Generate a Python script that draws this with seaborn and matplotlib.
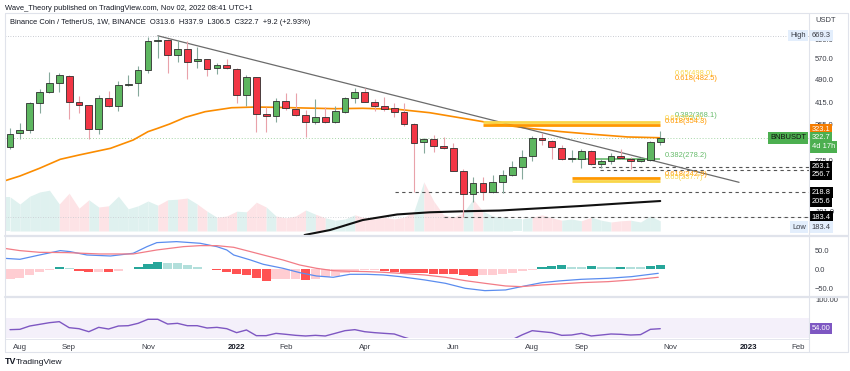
import matplotlib
matplotlib.use("Agg")
import matplotlib.pyplot as plt
import matplotlib.dates as mdates
import matplotlib.transforms as mtransforms
from matplotlib.lines import Line2D
import numpy as np
import pandas as pd
import seaborn as sns

# weekly BNB / USDT candles, first bar = week of 2021-07-26
first_week = "2021-07-26"
opens = [303.1, 333.5, 341.5, 413.2, 447.0, 478.7, 503.3, 416.2, 407.4, 343.9,
         429.2, 404.5, 470.9, 476.7, 524.2, 644.8, 649.5, 582.2, 609.0, 559.0,
         567.0, 530.6, 544.4, 527.9, 439.4, 497.5, 382.8, 377.4, 419.2, 396.7,
         379.3, 360.8, 373.9, 361.5, 389.2, 430.1, 448.9, 417.1, 405.3, 398.7,
         389.2, 355.7, 312.8, 319.5, 305.3, 299.6, 255.3, 215.7, 233.4, 219.8,
         235.0, 247.6, 261.6, 283.6, 321.8, 316.4, 300.9, 277.6, 278.2, 294.5,
         267.8, 274.2, 284.0, 278.2, 273.1, 275.6, 313.6]
highs = [347.1, 358.2, 418.0, 456.7, 517.8, 512.0, 505.8, 436.3, 408.5, 437.5,
         450.2, 483.6, 505.8, 539.4, 662.0, 669.3, 652.0, 649.5, 646.2, 616.4,
         568.5, 549.9, 568.3, 530.0, 505.8, 499.0, 401.6, 428.2, 445.7, 443.8,
         393.9, 425.2, 401.6, 405.3, 431.0, 460.0, 460.0, 425.2, 431.3, 413.2,
         413.2, 358.2, 321.8, 329.5, 324.2, 311.9, 257.9, 244.6, 243.6, 247.6,
         256.6, 274.2, 296.0, 327.1, 335.0, 318.0, 306.8, 296.0, 298.2, 296.0,
         279.0, 289.1, 297.5, 282.2, 282.0, 316.4, 337.9]
lows = [298.8, 319.5, 333.5, 386.4, 445.0, 448.9, 369.4, 384.8, 320.2, 331.2,
        403.0, 392.0, 469.0, 436.3, 512.0, 569.9, 512.0, 553.8, 490.5, 532.9,
        502.2, 508.3, 529.0, 415.0, 405.3, 337.4, 337.4, 362.3, 393.9, 377.4,
        324.2, 356.4, 360.0, 358.0, 384.8, 413.2, 417.0, 392.0, 392.0, 373.9,
        352.1, 218.8, 289.1, 292.5, 297.5, 254.0, 183.4, 204.6, 207.1, 217.3,
        218.2, 246.0, 240.6, 274.2, 306.8, 277.0, 276.0, 272.3, 259.8, 266.0,
        259.8, 267.8, 277.0, 257.9, 272.3, 274.2, 306.5]
closes = [331.9, 341.5, 413.2, 447.0, 478.7, 505.8, 416.2, 408.2, 343.9, 429.2,
          404.5, 469.9, 474.3, 523.1, 646.2, 649.5, 582.2, 609.0, 556.2, 568.3,
          529.1, 543.3, 530.6, 439.4, 497.5, 383.6, 377.4, 419.2, 398.7, 380.1,
          360.8, 373.9, 361.5, 391.1, 430.1, 448.9, 418.0, 406.2, 397.6, 389.2,
          355.7, 311.9, 319.5, 305.3, 299.6, 255.3, 215.7, 233.4, 219.8, 235.0,
          247.6, 261.6, 282.2, 321.8, 317.9, 301.8, 277.0, 279.0, 294.5, 267.8,
          273.7, 283.6, 279.0, 273.1, 277.6, 313.5, 322.7]
volume_m = [5.7, 4.5, 5.8, 6.5, 6.8, 4.5, 6.3, 3.8, 5.2, 4.0,
            4.2, 5.8, 3.7, 4.2, 5.0, 4.3, 5.2, 5.3, 5.5, 4.5,
            3.3, 2.3, 2.5, 3.3, 3.2, 4.8, 4.0, 2.5, 2.2, 2.5,
            3.5, 2.8, 2.2, 1.8, 2.0, 2.7, 2.2, 2.0, 2.3, 2.0,
            2.3, 3.3, 8.2, 5.0, 2.7, 2.3, 3.0, 5.3, 3.3, 2.5,
            2.3, 2.0, 2.0, 2.3, 2.7, 2.2, 1.8, 2.0, 1.7, 2.3,
            1.8, 1.5, 1.7, 1.8, 1.5, 2.5, 1.7]

# moving averages (week offset from first bar, value)
ema50_week = [-0.6, 1, 3, 5.1, 7, 10.2, 12.5, 14, 15, 16.2, 17.8, 19.8, 22.5, 24.9,
              26.9, 30, 33, 35.8, 39.3, 42.6, 46, 49.4, 52.6, 56, 59.4, 62.7, 66]
ema50 = [237.2, 245.8, 259.8, 277.0, 285.6, 299.6, 317.9, 337.4, 345.7, 356.4,
         373.9, 389.2, 400.4, 402.3, 401.6, 399.5, 397.6, 398.7, 396.0, 386.4,
         371.2, 356.4, 345.7, 337.4, 330.7, 324.9, 323.1]
ema200_week = [29.9, 32.5, 35.8, 39.3, 42.6, 46.0, 49.7, 57.9, 61.9, 66]
ema200 = [161.3, 167.2, 179.5, 186.8, 189.7, 191.1, 192.1, 198.4, 202.0, 205.6]

# descending trendline
trend_week = [15, 74]
trend_price = [669.3, 235.0]

# MACD
macd_hist = [-25.9, -21.6, -14.7, -7.8, -1.7, 5.2, 2.6, -3.5, -7.8, -6.0,
             -6.9, -3.5, -0.5, 5.2, 13.8, 19.9, 17.3, 15.5, 11.2, 6.9,
             1.7, -2.6, -6.0, -13.0, -15.5, -23.3, -29.4, -25.9, -25.9, -25.0,
             -27.6, -24.2, -19.0, -17.3, -8.6, -5.2, -2.6, -1.0, -4.3, -6.0,
             -8.6, -10.0, -10.8, -11.3, -11.8, -13.0, -15.0, -17.3, -15.5, -13.8,
             -12.0, -8.6, -5.2, -1.7, 5.2, 8.6, 10.4, 6.9, 6.9, 8.6,
             5.2, 5.2, 6.9, 5.2, 5.2, 8.6, 10.4]
macd_week = [-0.6, 1.0, 3.0, 5.1, 6.1, 7.8, 10.2, 12.5, 13.9, 14.9, 16.9, 19.3, 21.0,
             22.0, 22.7, 24.4, 25.7, 27.7, 29.4, 31.1, 32.8, 34.5, 36.2, 37.9, 39.6,
             42.1, 44.2, 46.2, 48.2, 50.3, 51.9, 54.0, 55.7, 58.0, 60.7, 63.1, 65.8]
macd_line = [28.5, 25.9, 37.1, 48.4, 45.8, 37.1, 34.5, 41.5, 58.7, 69.1, 71.7, 67.4,
             58.7, 50.1, 37.1, 24.2, 13.0, 2.6, -8.6, -17.3, -20.7, -13.0, -13.0,
             -14.7, -19.0, -27.6, -36.3, -49.2, -55.3, -53.5, -44.9, -34.5, -30.2,
             -25.9, -23.3, -19.0, -10.4]
signal_week = [-0.6, 1.0, 3.0, 5.8, 9.1, 12.5, 14.9, 17.6, 19.3, 21.0, 22.7, 24.4,
               26.1, 27.7, 29.4, 31.1, 32.8, 34.5, 36.2, 37.9, 39.6, 42.1, 44.2,
               46.2, 48.2, 50.3, 51.9, 54.0, 55.7, 58.0, 60.7, 63.1, 65.8]
signal_line = [54.4, 48.4, 44.0, 43.2, 39.7, 39.7, 50.1, 58.7, 61.3, 61.3, 57.0,
               45.8, 34.5, 24.2, 11.2, 2.6, -3.5, -5.2, -6.0, -7.8, -10.4, -14.7,
               -20.7, -29.4, -36.3, -43.2, -44.9, -40.6, -38.0, -34.5, -32.0,
               -27.6, -20.7]

# RSI (14)
rsi = [52.5, 53.0, 58.2, 60.8, 63.4, 65.0, 55.6, 54.0, 49.3, 56.1,
       53.5, 58.2, 58.7, 62.4, 68.7, 68.7, 61.3, 62.4, 58.7, 58.7,
       55.1, 56.1, 54.0, 47.8, 52.0, 43.1, 43.1, 46.7, 45.2, 43.6,
       42.6, 43.6, 42.6, 46.7, 50.9, 52.5, 49.3, 47.8, 46.7, 45.7,
       40.5, 36.0, 30.0, 31.0, 29.0, 28.0, 24.0, 22.0, 27.0, 26.0,
       30.0, 37.0, 44.5, 50.9, 49.3, 47.8, 43.6, 44.1, 46.7, 42.6,
       44.1, 45.7, 45.2, 44.1, 44.7, 53.0, 54.0]

# fibonacci levels
fib_labels = ["0.65", "0.618", "0.382", "0.65", "0.618", "0.382", "0.618", "0.65"]
fib_prices = [498.0, 482.5, 368.1, 362.0, 354.3, 278.2, 242.9, 237.7]
fib_kind = ["yellow", "orange", "green", "yellow", "orange", "green", "orange", "yellow"]
fib_start = [None, None, None, 48.0, 48.0, 56.7, 57.0, 57.0]
fib_label_week = [67.5, 67.5, 67.5, 66.5, 66.5, 66.5, 66.5, 66.5]

# horizontal support / resistance (price, start week)
sr_prices = [263.1, 256.7, 218.8, 183.4]
sr_start = [59.1, 59.9, 39.1, 44.0]
sr_tag_shift = [0, 4.5, 0, 0]   # scale tags pushed apart like on the source

tick_dates = ["2021-08-02", "2021-09-06", "2021-11-01", "2022-01-03", "2022-02-07",
              "2022-04-04", "2022-06-06", "2022-08-01", "2022-09-05", "2022-11-07",
              "2023-01-02", "2023-02-06"]
tick_labels = ["Aug", "Sep", "Nov", "2022", "Feb", "Apr", "Jun", "Aug", "Sep", "Nov",
               "2023", "Feb"]

sns.set_theme(style="white")
plt.rcParams["font.family"] = ["Liberation Sans", "DejaVu Sans"]

W, H = 850, 371
FS = 5.4
TXT = "#3a3d46"
GREEN, RED = "#5db660", "#f23645"
fib_colors = {"yellow": "#f9d649", "orange": "#ff9800", "green": "#66bb6a"}

fig = plt.figure(figsize=(W / 100, H / 100), dpi=100)
fig.patch.set_facecolor("white")


def rect(top, bottom):
    return [5 / W, 1 - bottom / H, 804 / W, (bottom - top) / H]


weeks = pd.date_range(first_week, periods=len(opens), freq="7D")
xs = mdates.date2num(weeks)
x0 = xs[0]


def wk(w):
    return x0 + np.asarray(w, dtype=float) * 7


xlim = (wk(-0.51), wk(81.1))
o, h, l, c = map(np.array, (opens, highs, lows, closes))
up = c >= o

# ---- volume (background of the price pane)
vax = fig.add_axes(rect(13, 231))
vax.axis("off")
vcol = {True: "#dff1ef", False: "#fde3e6"}
vax.fill_between([xlim[0], xs[0]], [volume_m[0]] * 2, 0, color=vcol[bool(up[0])], lw=0)
for i in range(1, len(xs)):
    vax.fill_between([xs[i - 1], xs[i]], [volume_m[i - 1], volume_m[i]], 0,
                     color=vcol[bool(up[i])], lw=0)
vax.set_xlim(xlim)
vax.set_ylim(0, 218 / 6)

# ---- price pane
ax = fig.add_axes(rect(13, 235.7))
ax.set_facecolor("none")
ax.set_yscale("log")
ax.set_ylim(415 * np.exp((102.7 - 235.7) / 140), 415 * np.exp((102.7 - 13) / 140))
ax.set_xlim(xlim)

ax.axhline(highs[15], color="#b8bbc4", lw=0.6, ls=(0, (1, 2)), zorder=1)
ax.axhline(183.4, color="#c8cad0", lw=0.6, ls=(0, (1, 2)), zorder=1)
ax.axhline(closes[-1], color="#a5d6a7", lw=0.7, ls=(0, (1, 2)), zorder=1)

for p, s in zip(sr_prices, sr_start):
    ax.hlines(p, wk(s), xlim[1], color="#555555", lw=0.8, ls=(0, (3, 3)), zorder=2)

sns.lineplot(x=wk(ema50_week), y=ema50, ax=ax, color="#fb8c00", lw=1.2, zorder=3)
sns.lineplot(x=wk(ema200_week), y=ema200, ax=ax, color="#111111", lw=1.5, zorder=3)
ax.plot(wk(trend_week), trend_price, color="#6b6b6b", lw=0.9, zorder=3)

for lab, p, kind, s, lw_ in zip(fib_labels, fib_prices, fib_kind, fib_start, fib_label_week):
    col = fib_colors[kind]
    if s is not None:
        ax.hlines(p, wk(s), xs[-1], color=col, lw=2.0 if kind != "green" else 1.2, zorder=3)
    ax.text(wk(lw_), p, f"{lab}({p:.1f})", color=col, fontsize=FS, ha="left",
            va="bottom", zorder=6)

ax.vlines(xs, l, h, colors=np.where(up, "#86a99c", "#e9a2aa"), lw=0.8, zorder=4)
ax.bar(xs, np.abs(c - o), bottom=np.minimum(o, c), width=4.8,
       color=np.where(up, GREEN, RED), edgecolor="#2e2e2e", linewidth=0.6, zorder=5)

yt = [191, 275, 355, 415, 490, 570, 650]
ax.set_yticks(yt)
ax.set_yticklabels([f"{v:.1f}" for v in yt])
ax.minorticks_off()
ax.yaxis.tick_right()
ax.tick_params(axis="y", length=0, pad=4.3, labelsize=FS, colors=TXT)
ax.set_xticks([])
for sp in ax.spines.values():
    sp.set_visible(False)

# ---- MACD pane
mac = fig.add_axes(rect(236.8, 296.0))
mac.set_xlim(xlim)
mac.set_ylim(-(296.0 - 269.3) / 0.386, (269.3 - 236.8) / 0.386)
hist_col = []
for i, v in enumerate(macd_hist):
    prev = macd_hist[i - 1] if i else v
    if v >= 0:
        hist_col.append("#26a69a" if v > prev else "#b2dfdb")
    else:
        hist_col.append("#ff5252" if v < prev else "#ffcdd2")
mac.bar(xs, macd_hist, width=6.5, color=hist_col, lw=0)
sns.lineplot(x=wk(macd_week), y=macd_line, ax=mac, color="#5b8def", lw=0.9)
sns.lineplot(x=wk(signal_week), y=signal_line, ax=mac, color="#f27c86", lw=0.9)
mac.set_yticks([50, 0, -50])
mac.set_yticklabels(["50.0", "0.0", "\u221250.0"])
mac.yaxis.tick_right()
mac.tick_params(axis="y", length=0, pad=4.3, labelsize=FS, colors=TXT)
mac.set_xticks([])
for sp in mac.spines.values():
    sp.set_visible(False)

# ---- RSI pane
rax = fig.add_axes(rect(297.2, 338))
rax.set_xlim(xlim)
rax.set_ylim(100 - (338 - 299.3) / 0.639, 100 + (299.3 - 297.2) / 0.639)
rax.axhspan(30, 70, color="#f4f0fa", lw=0, zorder=0)
sns.lineplot(x=xs, y=rsi, ax=rax, color="#7e57c2", lw=1.0)
rax.set_yticks([100])
rax.set_yticklabels(["100.00"])
rax.yaxis.tick_right()
rax.tick_params(axis="y", length=0, pad=4.3, labelsize=FS, colors=TXT)
rax.set_xticks(mdates.date2num(pd.to_datetime(tick_dates)))
rax.set_xticklabels(tick_labels)
rax.tick_params(axis="x", length=0, pad=4.0, labelsize=FS + 0.3, colors=TXT)
for t in rax.get_xticklabels():
    if t.get_text().isdigit():
        t.set_fontweight("bold")
        t.set_color("#131722")
for sp in rax.spines.values():
    sp.set_visible(False)
for a in (ax, mac, rax):
    a.set_xlabel("")
    a.set_ylabel("")
    a.grid(False)


# ---- price tags on the right scale
def tag(axis, y, text, fc, tc="white", xpx=811.5, ha="left", dy=0):
    tr = mtransforms.blended_transform_factory(fig.transFigure, axis.transData)
    if dy:
        tr = mtransforms.offset_copy(tr, fig=fig, y=-dy * 0.72, units="points")
    axis.text(xpx / W, y, text, transform=tr, fontsize=FS, color=tc, ha=ha,
              va="center", clip_on=False, zorder=20,
              bbox=dict(boxstyle="square,pad=0.28", fc=fc, ec="none"))


tag(ax, highs[15], f"{highs[15]:.1f}", "#e3eefc", TXT)
tag(ax, highs[15], "High", "#e3eefc", TXT, xpx=806, ha="right")
tag(ax, ema50[-1], f"{ema50[-1]:.1f}", "#f57c00", dy=-8)
tag(ax, closes[-1], f"{closes[-1]:.1f}", "#4caf50")
tag(ax, closes[-1], "4d 17h", "#4caf50", dy=9)
tag(ax, closes[-1], "BNBUSDT", "#4caf50", "#111111", xpx=806, ha="right")
for p, s in zip(sr_prices, sr_tag_shift):
    tag(ax, p, f"{p:.1f}", "#000000", dy=s)
tag(ax, ema200[-1], f"{ema200[-1]:.1f}", "#000000")
tag(ax, 183.4, "183.4", "#e3eefc", TXT, dy=10)
tag(ax, 183.4, "Low", "#e3eefc", TXT, xpx=806, ha="right", dy=10)
tag(rax, rsi[-1], f"{rsi[-1]:.2f}", "#7e57c2")

# ---- header and frame
chg = closes[-1] - closes[-2]
fig.text(5 / W, 1 - 8 / H, "Wave_Theory published on TradingView.com, Nov 02, 2022 08:41 UTC+1",
         fontsize=FS, color="#131722", va="center")
fig.text(10 / W, 1 - 23 / H,
         f"Binance Coin / TetherUS, 1W, BINANCE  O{opens[-1]:.1f}  H{highs[-1]:.1f}  "
         f"L{lows[-1]:.1f}  C{closes[-1]:.1f}  +{chg:.1f} (+{chg / closes[-2] * 100:.2f}%)",
         fontsize=FS, color="#131722", va="center")
fig.text(815 / W, 1 - 20 / H, "USDT", fontsize=FS, color=TXT, va="center")
fig.text(5 / W, 1 - 362 / H, "TV", fontsize=FS + 1, fontweight="bold", color="#131722",
         va="center")
fig.text(16 / W, 1 - 362 / H, "TradingView", fontsize=FS + 0.6, color="#131722", va="center")

frame = "#e0e3eb"


def fline(x1, y1, x2, y2, lw=0.8, col=frame):
    fig.add_artist(Line2D([x1 / W, x2 / W], [1 - y1 / H, 1 - y2 / H], color=col, lw=lw))


fline(5, 13, 848, 13)
fline(5, 13, 5, 352)
fline(848, 13, 848, 352)
fline(5, 352, 848, 352)
fline(809, 13, 809, 352)
fline(5, 236.2, 848, 236.2, lw=1.6)
fline(5, 296.6, 848, 296.6, lw=1.6)
fline(5, 338.5, 809, 338.5, lw=0.6)

fig.savefig("out.png", dpi=100)
